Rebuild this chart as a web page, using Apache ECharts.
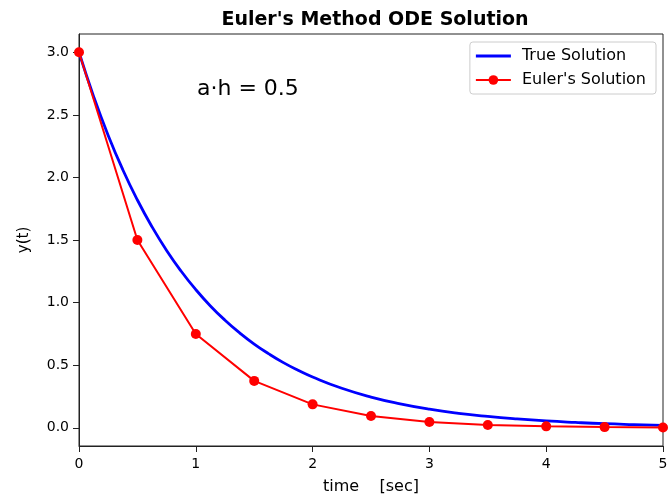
<!DOCTYPE html>
<html>
<head>
<meta charset="utf-8">
<script src="https://cdn.jsdelivr.net/npm/echarts@6/dist/echarts.min.js"></script>
<style>html,body{margin:0;padding:0;background:#fff;}#c{width:671px;height:500px;}</style>
</head>
<body>
<div id="c"></div>
<script>
// True solution samples
const trueT = [0, 0.125, 0.25, 0.375, 0.5, 0.625, 0.75, 0.875, 1, 1.125, 1.25, 1.375, 1.5, 1.625, 1.75, 1.875, 2, 2.25, 2.5, 2.75, 3, 3.25, 3.5, 3.75, 4, 4.25, 4.5, 4.75, 5];
const trueY = [3.0, 2.648, 2.336, 2.062, 1.820, 1.606, 1.417, 1.251, 1.104, 0.974, 0.860, 0.759, 0.669, 0.591, 0.521, 0.460, 0.406, 0.316, 0.246, 0.192, 0.149, 0.116, 0.091, 0.071, 0.055, 0.043, 0.033, 0.026, 0.020];
// Euler's method points
const eulerT = [0, 0.5, 1, 1.5, 2, 2.5, 3, 3.5, 4, 4.5, 5];
const eulerY = [3.0, 1.5, 0.75, 0.375, 0.1875, 0.094, 0.047, 0.023, 0.012, 0.006, 0.003];
const yTicks = [0.0, 0.5, 1.0, 1.5, 2.0, 2.5, 3.0];

const font = 'DejaVu Sans';
const chart = echarts.init(document.getElementById('c'));
chart.setOption({
  animation: false,
  title: {
    text: "Euler's Method ODE Solution",
    left: 370, top: 6, textAlign: 'center',
    textStyle: {fontFamily: font, fontSize: 19, fontWeight: 'bold', color: '#000'}
  },
  grid: {left: 79, right: 8, top: 34, bottom: 50, show: true, borderColor: '#222', borderWidth: 1},
  legend: {
    orient: 'vertical', right: 15, top: 42,
    backgroundColor: '#fff', borderColor: '#ccc', borderWidth: 1, borderRadius: 3,
    padding: [5, 10, 5, 5], itemGap: 6, itemWidth: 35, itemHeight: 12,
    textStyle: {fontFamily: font, fontSize: 16, color: '#000', padding: [0, 0, 0, 6], lineHeight: 18},
    data: [
      {name: 'True Solution', icon: 'path://M0,4.6 H35 V7.4 H0 Z M0,0 H0.01 V12 H0 Z'},
      {name: "Euler's Solution"}
    ]
  },
  graphic: [{
    type: 'text', left: 197, top: 78,
    style: {text: 'a·h = 0.5', font: '22px "DejaVu Sans"', fill: '#000'}
  }],
  xAxis: {
    type: 'value', min: 0, max: 5, interval: 1,
    name: 'time    [sec]', nameLocation: 'middle', nameGap: 33,
    nameTextStyle: {fontFamily: font, fontSize: 16, color: '#000'},
    axisLine: {show: true, onZero: false, lineStyle: {color: '#222'}},
    axisTick: {show: true, inside: false, length: 6, lineStyle: {color: '#222'}},
    axisLabel: {fontFamily: font, fontSize: 14, color: '#000', margin: 11},
    splitLine: {show: false}
  },
  yAxis: {
    type: 'value', min: -0.145, max: 3.146,
    name: 'y(t)', nameLocation: 'middle', nameGap: 47,
    nameTextStyle: {fontFamily: font, fontSize: 15, color: '#000'},
    axisLine: {show: true, onZero: false, lineStyle: {color: '#222'}},
    axisTick: {show: true, length: 6, lineStyle: {color: '#222'}, customValues: yTicks},
    axisLabel: {fontFamily: font, fontSize: 14, color: '#000', margin: 10, customValues: yTicks,
      formatter: v => v.toFixed(1)},
    splitLine: {show: false}
  },
  series: [
    {
      name: 'True Solution', type: 'line', smooth: true, symbol: 'none',
      data: trueT.map((t, i) => [t, trueY[i]]),
      lineStyle: {color: '#0000ff', width: 2.8}, itemStyle: {color: '#0000ff'},
      z: 2
    },
    {
      name: "Euler's Solution", type: 'line', symbol: 'circle', symbolSize: 10,
      data: eulerT.map((t, i) => [t, eulerY[i]]),
      lineStyle: {color: '#ff0000', width: 2}, itemStyle: {color: '#ff0000'},
      z: 3
    }
  ]
});
</script>
</body>
</html>
